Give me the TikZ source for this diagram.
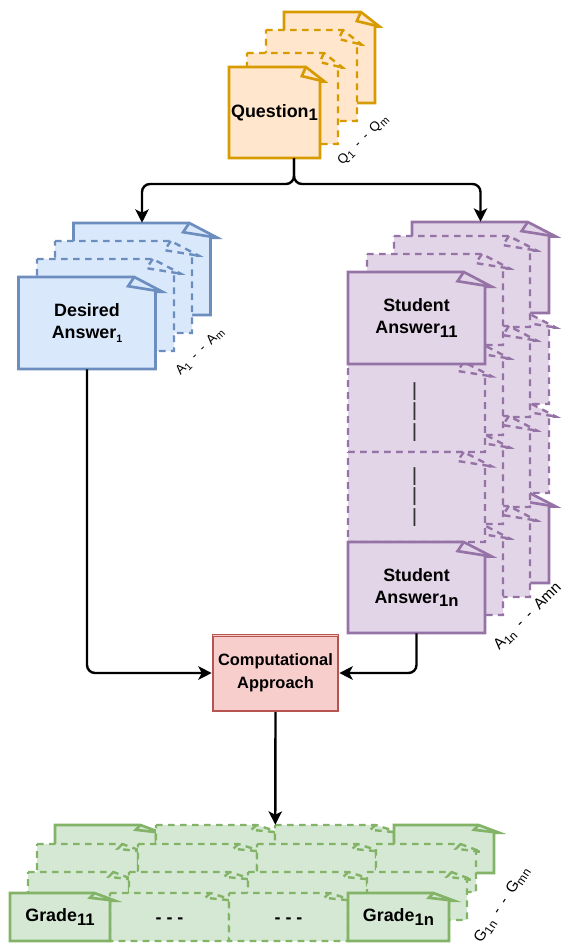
\documentclass[tikz,border=0pt]{standalone}
\usepackage{fontspec}
\setmainfont{Liberation Sans}
\usetikzlibrary{arrows.meta,positioning}
\definecolor{qfill}{HTML}{FFE6CC}\definecolor{qline}{HTML}{D79B00}
\definecolor{afill}{HTML}{DAE8FC}\definecolor{aline}{HTML}{6C8EBF}
\definecolor{sfill}{HTML}{E1D5E7}\definecolor{sline}{HTML}{9673A6}
\definecolor{gfill}{HTML}{D5E8D4}\definecolor{gline}{HTML}{82B366}
\definecolor{cfill}{HTML}{F8CECC}\definecolor{cline}{HTML}{B85450}
\tikzset{
  qsheet/.style={draw=qline,fill=qfill,line width=2pt},
  asheet/.style={draw=aline,fill=afill,line width=2pt},
  ssheet/.style={draw=sline,fill=sfill,line width=2pt},
  gsheet/.style={draw=gline,fill=gfill,line width=2pt},
  dashy/.style={line width=1.8pt,dash pattern=on 5pt off 4pt},
  lbl/.style={font=\bfseries\fontsize{13.4}{16.5}\selectfont,align=center,inner sep=0pt},
  rlbl/.style={font=\fontsize{10}{11}\selectfont,inner sep=0pt},
  flow/.style={draw=black,line width=1.8pt,rounded corners=6pt,-{Stealth[length=10pt,width=10pt,inset=2.5pt]}},
}
% one page: name, style, x, y, w, h, text
\newcommand{\sheet}[7]{
  \draw[#2] (#3,#4) -- ({#3+#5*0.845},#4) -- ({#3+#5*1.05},{#4+#6*0.16}) -- ({#3+#5},{#4+#6*0.16})
    -- ({#3+#5},{#4+#6}) -- (#3,{#4+#6}) -- cycle;
  \draw[#2,fill=none] ({#3+#5*0.845},#4) -- ({#3+#5*0.8},{#4+#6*0.1}) -- ({#3+#5*1.05},{#4+#6*0.16});
  \node[lbl,minimum width={#5*0.75pt},minimum height={#6*0.75pt}] (#1) at ({#3+#5/2},{#4+#6/2}) {#7};
}
\newcommand{\dn}[2][10]{\raisebox{-0.4ex}{\fontsize{#1}{#1}\selectfont #2}}
\begin{document}
\begin{tikzpicture}[x=0.75pt,y=0.75pt,yscale=-1]
    \useasboundingbox (0,0) rectangle (564,945);
    %questions
    \sheet{q4}{qsheet}{284}{12}{91}{91}{}
    \sheet{q3}{qsheet,dashy}{266}{30}{91}{91}{}
    \sheet{q2}{qsheet,dashy}{247}{53}{91}{91}{}
    \sheet{q1}{qsheet}{229}{67}{91}{91}{Question\dn[12.5]{1}}
    \node[rlbl,rotate=45] (qr) at (363,140) {Q\dn[8]{1}\enspace-\enspace-\enspace Q\dn[8]{m}};
    %desired answers
    \sheet{a4}{asheet}{73.5}{223}{137}{92}{}
    \sheet{a3}{asheet,dashy}{55}{241}{137}{92}{}
    \sheet{a2}{asheet,dashy}{37}{259}{137}{92}{}
    \sheet{a1}{asheet}{18.5}{277}{137}{92}{Desired\\Answer\dn[8]{1}}
    \node[rlbl,rotate=45] (ar) at (200,352) {A\dn[8]{1}\enspace-\enspace-\enspace A\dn[8]{m}};
    %student answers
    \sheet{s42}{ssheet,dashy}{412}{313}{137}{91}{}
    \sheet{s43}{ssheet,dashy}{412}{402}{137}{91}{}
    \sheet{s41}{ssheet}{412}{222}{137}{91}{}
    \sheet{s44}{ssheet}{412}{492}{137}{91}{}
    \sheet{s31}{ssheet,dashy}{394}{236}{136}{91}{}
    \sheet{s32}{ssheet,dashy}{394}{326}{136}{91}{}
    \sheet{s33}{ssheet,dashy}{394}{416}{136}{91}{}
    \sheet{s34}{ssheet,dashy}{394}{506}{136}{91}{}
    \sheet{s21}{ssheet,dashy}{367}{254}{136}{91}{}
    \sheet{s22}{ssheet,dashy}{367}{344}{136}{91}{}
    \sheet{s23}{ssheet,dashy}{367}{433}{136}{91}{}
    \sheet{s24}{ssheet,dashy}{367}{524}{136}{91}{}
    \sheet{s12}{ssheet,dashy}{348}{362}{137}{90}{\rotatebox{90}{\color{black!80}---\,---\,---\kern7.5pt}}
    \sheet{s13}{ssheet,dashy}{348}{452}{137}{90}{\rotatebox{90}{\color{black!80}---\,---\,---}}
    \sheet{s11}{ssheet}{348}{272}{137}{92}{Student\\Answer\dn[12.5]{11}}
    \sheet{s14}{ssheet}{348}{542}{137}{91}{Student\\Answer\dn[12.5]{1n}}
    \node[rlbl,font=\fontsize{11.5}{12}\selectfont,rotate=45] (sr) at (528,617) {A\dn[9]{1n}\enspace-\enspace-\enspace Amn};
    %computational approach
    \node[lbl,font=\bfseries\fontsize{12.3}{17}\selectfont,draw=cline,fill=cfill,line width=0.7pt,minimum width=95pt,minimum height=58pt] (comp) at (275.5,673) {Computational\\Approach};
    \draw[cline,line width=0.7pt] ([shift={(1.6pt,1.6pt)}]comp.north west) rectangle ([shift={(-1.6pt,-1.6pt)}]comp.south east);
    %grades
    \sheet{g41}{gsheet}{55}{825}{101}{48}{}
    \sheet{g42}{gsheet,dashy}{156}{825}{119}{48}{}
    \sheet{g43}{gsheet,dashy}{275}{825}{119}{48}{}
    \sheet{g44}{gsheet}{394}{825}{100}{48}{}
    \sheet{g31}{gsheet,dashy}{37}{844}{101}{48}{}
    \sheet{g32}{gsheet,dashy}{138}{844}{119}{48}{}
    \sheet{g33}{gsheet,dashy}{257}{844}{119}{48}{}
    \sheet{g34}{gsheet,dashy}{376}{844}{100}{48}{}
    \sheet{g21}{gsheet,dashy}{28}{872}{101}{48}{}
    \sheet{g22}{gsheet,dashy}{129}{872}{119}{48}{}
    \sheet{g23}{gsheet,dashy}{248}{872}{119}{48}{}
    \sheet{g24}{gsheet,dashy}{367}{872}{100}{48}{}
    \sheet{g12}{gsheet,dashy}{110}{893}{119}{48}{\raisebox{-5pt}[0pt][0pt]{- - -}}
    \sheet{g13}{gsheet,dashy}{229}{893}{119}{48}{\raisebox{-5pt}[0pt][0pt]{- - -}}
    \sheet{g11}{gsheet}{10}{893}{100}{48}{Grade\dn[12.5]{11}}
    \sheet{g14}{gsheet}{348}{893}{101}{48}{Grade\dn[12.5]{1n}}
    \node[rlbl,font=\fontsize{11.5}{12}\selectfont,rotate=57] (gr) at (502,905) {G\dn[9]{1n}\enspace-\enspace-\enspace G\dn[9]{mn}};
    %edges
    \coordinate (split) at (294,184);
    \draw[flow] ([xshift=14.6pt]q1.south) -- (split) -| (a4.north);
    \draw[flow] ([xshift=14.6pt]q1.south) -- (split) -| (s41.north);
    \draw[flow] (a1.south) |- (comp.west);
    \draw[flow] (s14.south) |- (comp.east);
    \draw[flow] (comp.south) -- (g42.north east);
\end{tikzpicture}
\end{document}
